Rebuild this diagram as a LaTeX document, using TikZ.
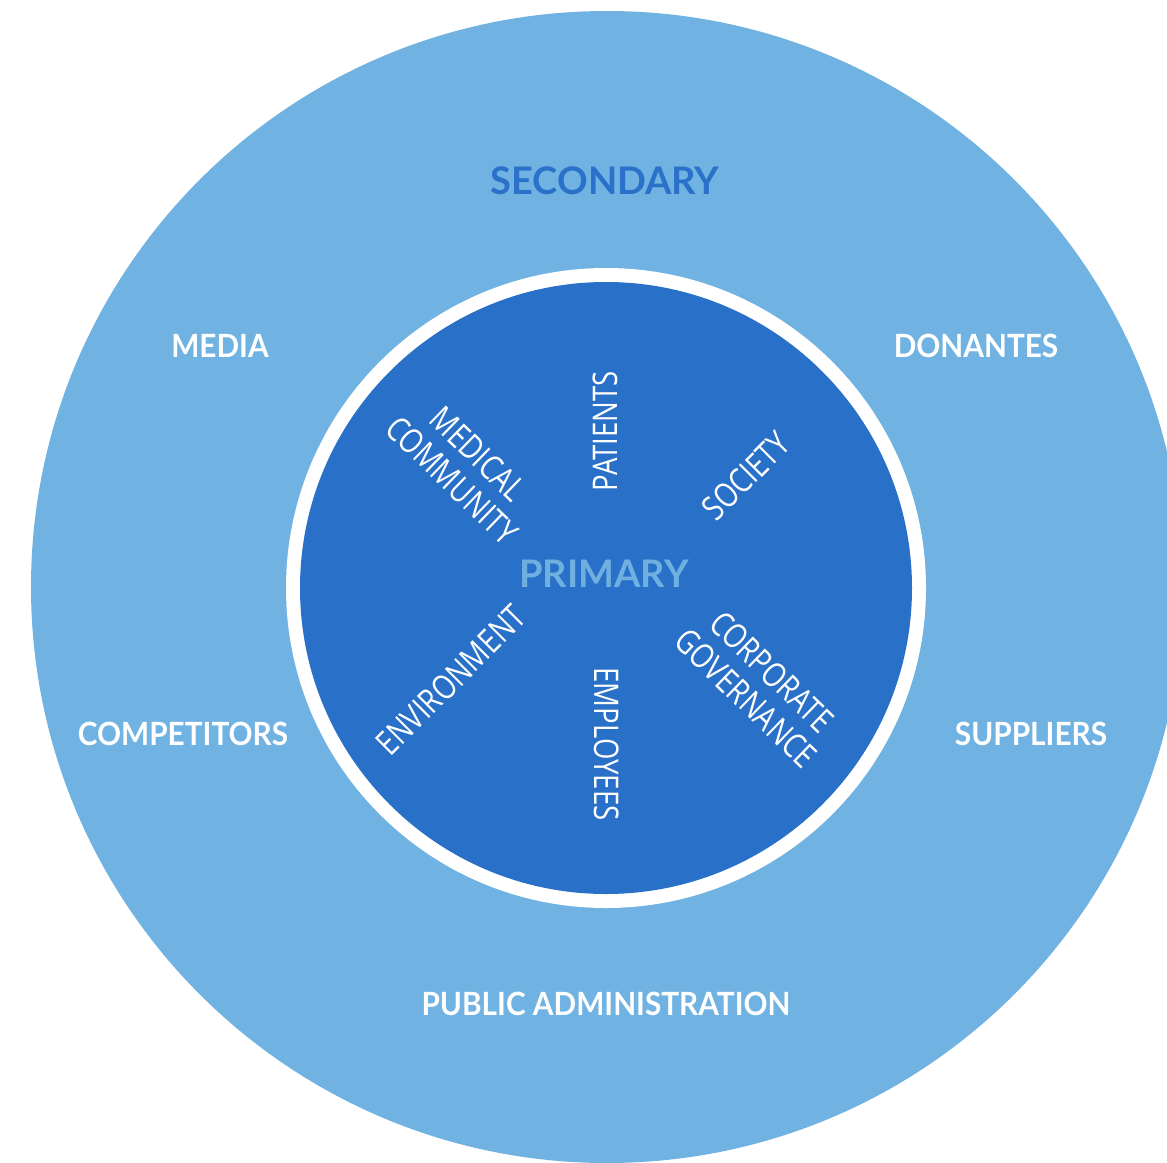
\documentclass[tikz,border=0pt]{standalone}
\usepackage{fontspec}
\usepackage{graphicx}
\setmainfont{Open Sans}
\newfontfamily\lablfont{Lato}
\newfontfamily\innerfont{Open Sans}
\definecolor{outerblue}{HTML}{70B2E2}
\definecolor{innerblue}{HTML}{2870C8}
\definecolor{secblue}{HTML}{2A71C9}
\definecolor{primblue}{HTML}{6FB0E0}
\tikzset{
  outerlab/.style={text=white, font=\lablfont\bfseries\fontsize{32}{36}\selectfont, inner sep=0pt},
  titlelab/.style={font=\lablfont\bfseries\fontsize{38}{42}\selectfont, inner sep=0pt},
  innerlab/.style={text=white, font=\innerfont\fontsize{34}{40}\selectfont, inner sep=0pt},
}
\newcommand{\ow}[1]{\scalebox{0.93}[1]{#1}}
\newcommand{\sq}[1]{\scalebox{0.81}[1]{#1}}
\newcommand{\sqq}[2]{\scalebox{0.81}[1]{\begin{tabular}{@{}c@{}}#1\\[-3pt]#2\end{tabular}}}
\begin{document}
\begin{tikzpicture}[x=1pt,y=-1pt]
\useasboundingbox (0,0) rectangle (1167,1162);
\begin{scope}
  \clip (0,0) rectangle (1167,1162);
  \node[circle, fill=outerblue, draw=none, minimum size=1152pt, inner sep=0pt] (outer) at (607,587) {};
\end{scope}
\node[circle, fill=white, draw=none, minimum size=640pt, inner sep=0pt] (ring) at (606,588) {};
\node[circle, fill=innerblue, draw=none, minimum size=612pt, inner sep=0pt] (inner) at (606,588) {};

\node[titlelab, text=secblue] (secondary) at (605,181) {SECONDARY};
\node[titlelab, text=primblue] (primary) at (604,574) {PRIMARY};

\node[outerlab] (media) at (220,346) {\ow{MEDIA}};
\node[outerlab] (donantes) at (976,346) {\ow{DONANTES}};
\node[outerlab] (competitors) at (183,734) {\ow{COMPETITORS}};
\node[outerlab] (suppliers) at (1031,734) {\ow{SUPPLIERS}};
\node[outerlab] (publicadmin) at (606,1004) {\ow{PUBLIC ADMINISTRATION}};

\node[innerlab, rotate=90] (patients) at (605,431) {\sq{PATIENTS}};
\node[innerlab, rotate=-90] (employees) at (607,744) {\sq{EMPLOYEES}};
\node[innerlab, rotate=45] (society) at (746,476) {\sq{SOCIETY}};
\node[innerlab, rotate=45] (environment) at (451,680) {\sq{ENVIRONMENT}};
\node[innerlab, rotate=-44] (medical) at (462,470) {\sqq{MEDICAL}{COMMUNITY}};
\node[innerlab, rotate=-44] (corporate) at (756,688) {\sqq{CORPORATE}{GOVERNANCE}};
\end{tikzpicture}
\end{document}
